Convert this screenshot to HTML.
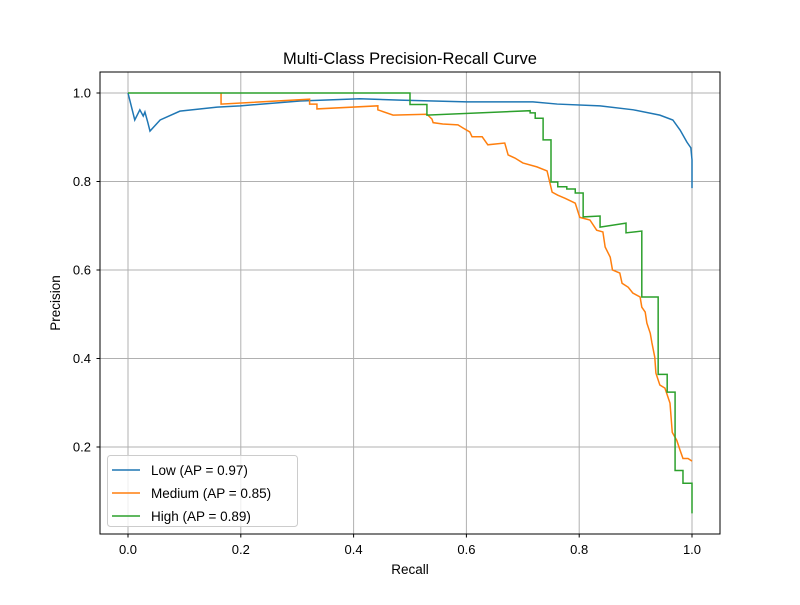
<!DOCTYPE html>
<html><head><meta charset="utf-8"><style>
body{margin:0;background:#fff;}
svg text{font-family:"Liberation Sans","DejaVu Sans",sans-serif;fill:#000;}
</style></head><body>
<svg id="chart" width="800" height="600" viewBox="0 0 800 600" xmlns="http://www.w3.org/2000/svg">
<rect width="800" height="600" fill="#fff"/>
<g id="grid"></g>
<g id="series"></g>
<rect x="100" y="72" width="620" height="462" fill="none" stroke="#000" stroke-width="1"/>
<g id="ticks"></g>
<text x="410" y="64" font-size="16.5" text-anchor="middle">Multi-Class Precision-Recall Curve</text>
<text x="410" y="574" font-size="13.5" text-anchor="middle">Recall</text>
<text transform="translate(60,303) rotate(-90)" font-size="13.5" text-anchor="middle">Precision</text>
<g>
<rect x="107.5" y="455.5" width="190" height="71" rx="3" fill="#fff" fill-opacity="0.8" stroke="#ccc"/>
<g><line x1="112" y1="470" x2="140" y2="470" stroke="#1f77b4" stroke-width="1.5"/><text x="151" y="475" font-size="13.5">Low (AP = 0.97)</text></g>
<g><line x1="112" y1="493" x2="140" y2="493" stroke="#ff7f0e" stroke-width="1.5"/><text x="151" y="498" font-size="13.5">Medium (AP = 0.85)</text></g>
<g><line x1="112" y1="516" x2="140" y2="516" stroke="#2ca02c" stroke-width="1.5"/><text x="151" y="521" font-size="13.5">High (AP = 0.89)</text></g>
</g>
</svg>
<script>
const xTicks=[0,0.2,0.4,0.6,0.8,1.0];
const xTickLabels=["0.0","0.2","0.4","0.6","0.8","1.0"];
const yTicks=[0.2,0.4,0.6,0.8,1.0];
const yTickLabels=["0.2","0.4","0.6","0.8","1.0"];
const seriesNames=["low","medium","high"];
const lowRecall=[0,0,.012,.021,.027,.030,.035,.039,.057,.092,.158,.199,.305,.411,.482,.601,.718,.761,.837,.896,.943,.966,.979,.991,.998,1.0,1.0];
const lowPrecision=[1,1,.939,.962,.948,.957,.934,.914,.939,.959,.968,.971,.982,.987,.984,.980,.980,.975,.971,.962,.950,.939,.916,.889,.876,.849,.785];
const mediumRecall=[.165,.165,.322,.322,.335,.335,.443,.443,.470,.530,.539,.541,.558,.585,.594,.606,.610,.628,.638,.668,.674,.686,.700,.725,.743,.752,.762,.775,.793,.801,.819,.831,.842,.846,.855,.859,.872,.876,.887,.895,.908,.911,.917,.920,.926,.929,.934,.936,.943,.952,.961,.965,.973,.979,.984,.993,1.0];
const mediumPrecision=[1.0,.975,.986,.975,.975,.964,.971,.962,.950,.952,.941,.933,.930,.928,.921,.912,.901,.901,.883,.887,.860,.853,.842,.833,.824,.776,.769,.762,.751,.719,.713,.690,.686,.652,.629,.600,.593,.570,.561,.548,.539,.516,.505,.480,.457,.435,.403,.367,.340,.333,.299,.233,.215,.192,.174,.174,.168];
const highRecall=[0,.5,.5,.53,.53,.713,.713,.722,.722,.736,.736,.750,.750,.762,.762,.778,.778,.793,.793,.807,.807,.837,.837,.883,.883,.911,.911,.940,.940,.956,.956,.970,.970,.984,.984,1.0,1.0];
const highPrecision=[1,1,.974,.974,.950,.960,.955,.955,.943,.943,.894,.894,.799,.799,.788,.788,.783,.783,.774,.774,.720,.722,.697,.706,.684,.688,.539,.539,.364,.364,.324,.324,.147,.147,.118,.118,.050];
const colors=["#1f77b4","#ff7f0e","#2ca02c"];
const NS="http://www.w3.org/2000/svg";
function xs(v){return 128+564*v;}
function ys(v){return 535.5-442.5*v;}
const grid=document.getElementById('grid'),ticks=document.getElementById('ticks'),ser=document.getElementById('series');
xTicks.forEach((t,i)=>{
 const g=document.createElementNS(NS,'line');
 
 
 g.setAttribute('x1',xs(t));g.setAttribute('x2',xs(t));g.setAttribute('y1',72);g.setAttribute('y2',534);
 g.setAttribute('stroke','#b0b0b0');g.setAttribute('stroke-width','1');grid.appendChild(g);
 const tk=document.createElementNS(NS,'line');
 
 
 tk.setAttribute('x1',xs(t));tk.setAttribute('x2',xs(t));tk.setAttribute('y1',534);tk.setAttribute('y2',537.5);tk.setAttribute('stroke','#000');ticks.appendChild(tk);
 const tx=document.createElementNS(NS,'text');
 
 
 tx.setAttribute('x',xs(t));tx.setAttribute('y',554);tx.setAttribute('font-size','13');tx.setAttribute('text-anchor','middle');tx.textContent=xTickLabels[i];ticks.appendChild(tx);
});
yTicks.forEach((t,i)=>{
 const g=document.createElementNS(NS,'line');
 
 
 g.setAttribute('x1',100);g.setAttribute('x2',720);g.setAttribute('y1',ys(t));g.setAttribute('y2',ys(t));
 g.setAttribute('stroke','#b0b0b0');g.setAttribute('stroke-width','1');grid.appendChild(g);
 const tk=document.createElementNS(NS,'line');
 
 
 tk.setAttribute('x1',96.5);tk.setAttribute('x2',100);tk.setAttribute('y1',ys(t));tk.setAttribute('y2',ys(t));tk.setAttribute('stroke','#000');ticks.appendChild(tk);
 const tx=document.createElementNS(NS,'text');
 
 
 tx.setAttribute('x',91);tx.setAttribute('y',ys(t)+4.5);tx.setAttribute('font-size','13');tx.setAttribute('text-anchor','end');tx.textContent=yTickLabels[i];ticks.appendChild(tx);
});
const data=[[lowRecall,lowPrecision],[mediumRecall,mediumPrecision],[highRecall,highPrecision]];
data.forEach((d,k)=>{
 const p=document.createElementNS(NS,'polyline');
 
 
 p.setAttribute('points',d[0].map((r,i)=>xs(r)+','+ys(d[1][i])).join(' '));
 p.setAttribute('fill','none');p.setAttribute('stroke',colors[k]);p.setAttribute('stroke-width','1.5');
 ser.appendChild(p);
});
</script>
</body></html>
